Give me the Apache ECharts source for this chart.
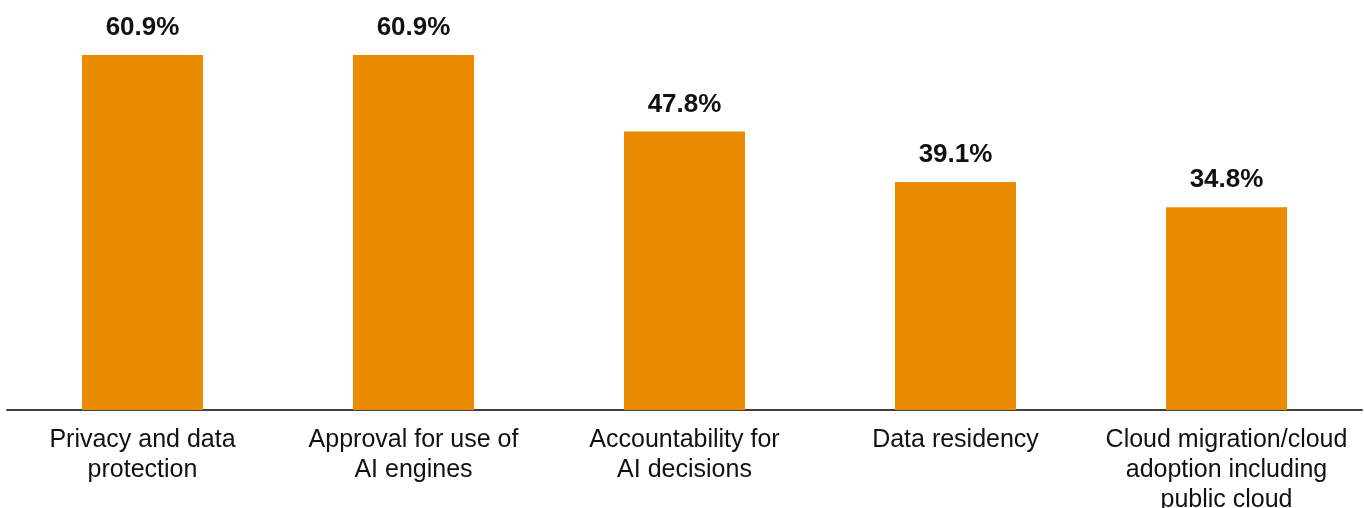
<!DOCTYPE html>
<html>
<head>
<meta charset="utf-8">
<script src="https://cdn.jsdelivr.net/npm/echarts@6/dist/echarts.min.js"></script>
<style>
  html, body { margin: 0; padding: 0; background: #fff; }
  #main { width: 1364px; height: 508px; }
</style>
</head>
<body>
<div id="main"></div>
<script>
const categories = [
  "Privacy and data\nprotection",
  "Approval for use of\nAI engines",
  "Accountability for\nAI decisions",
  "Data residency",
  "Cloud migration/cloud\nadoption including\npublic cloud"
];
const shares = [60.9, 60.9, 47.8, 39.1, 34.8];

const fontFamily = "'Liberation Sans', Arial, Helvetica, sans-serif";

const myChart = echarts.init(document.getElementById("main"));
myChart.setOption({
  animation: false,
  grid: { left: 7, right: 2, top: 2, bottom: 98, containLabel: false, outerBoundsMode: "none" },
  xAxis: {
    type: "category",
    data: categories,
    axisLine: { show: true, lineStyle: { color: "#404040", width: 2 } },
    axisTick: { show: false },
    axisLabel: {
      interval: 0,
      color: "#111",
      fontSize: 25,
      lineHeight: 30,
      fontFamily: fontFamily,
      margin: 15
    }
  },
  yAxis: {
    type: "value",
    min: 0,
    max: 70,
    show: false,
    splitLine: { show: false }
  },
  series: [
    {
      type: "bar",
      data: shares,
      barWidth: 121,
      itemStyle: { color: "#EB8C00" },
      label: {
        show: true,
        position: "top",
        distance: 14,
        color: "#111",
        fontSize: 26,
        fontWeight: "bold",
        fontFamily: fontFamily,
        formatter: function (p) { return p.value.toFixed(1) + "%"; }
      }
    }
  ]
});
</script>
</body>
</html>
